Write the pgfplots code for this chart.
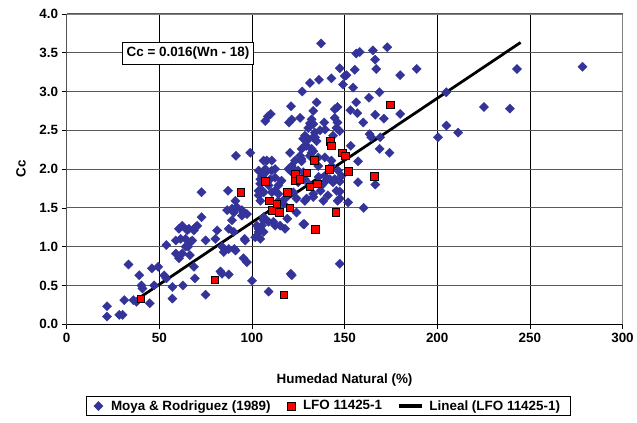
\documentclass[border=0pt]{standalone}
\usepackage{fontspec}
\setmainfont{Liberation Sans}
\usepackage{pgfplots}
\pgfplotsset{compat=1.18}
\definecolor{moya}{RGB}{51,51,153}
\begin{document}
\begin{tikzpicture}[font=\bfseries\fontsize{13.5bp}{16bp}\selectfont]
\begin{axis}[
  scale only axis, width=559bp, height=312bp,
  xmin=0, xmax=300, ymin=0, ymax=4,
  xtick={0,50,100,150,200,250,300},
  ytick={0,0.5,1,1.5,2,2.5,3,3.5,4},
  /pgf/number format/assume math mode=true,
  yticklabel style={/pgf/number format/.cd, fixed, fixed zerofill, precision=1},
  xtick pos=left, ytick pos=left,
  tick align=outside, major tick length=5bp,
  tick style={black, line width=0.6pt},
  axis line style={draw=gray, line width=0.8pt},
  xmajorgrids, ymajorgrids,
  x grid style={black, line width=0.6pt},
  y grid style={black!65, line width=0.9pt},
  xlabel={Humedad Natural (\%)},
  ylabel={Cc},
  xlabel style={at={(axis description cs:0.5,-0.1795)}, anchor=center},
  ylabel style={at={(axis description cs:-0.082,0.5)}, anchor=center},
  legend columns=-1,
  legend style={at={(0.47,-0.232)}, anchor=north, draw=black, line width=0.6pt,
    inner xsep=8bp, inner ysep=2bp,
    /tikz/every odd column/.append style={column sep=6bp},
    /tikz/every even column/.append style={column sep=15bp}},
  legend cell align=left,
]
\draw[black, line width=0.8pt] (rel axis cs:0,1) -- (rel axis cs:0,0) -- (rel axis cs:1,0);
\addplot[only marks, mark=square*, mark size=3.3bp, mark options={rotate=45, fill=moya, draw=moya, line width=0.3pt}] coordinates {
(21.8,0.23)(21.8,0.10)(28.4,0.12)(30.2,0.12)(31.1,0.31)(33.4,0.77)(36.0,0.31)(37.7,0.29)
(39.2,0.63)(40.4,0.50)(41.0,0.46)(44.9,0.27)(46.0,0.72)(49.4,0.74)(47.2,0.50)(52.6,0.63)
(53.8,0.59)(53.8,1.02)(57.1,0.48)(57.1,0.33)(58.9,0.91)(58.9,1.08)(61.5,1.10)(60.6,0.85)
(62.8,0.50)(64.2,1.00)(65.1,1.21)(65.6,1.00)(66.5,0.89)(67.8,1.08)(68.7,0.74)(69.6,1.25)
(69.2,0.59)(72.8,1.38)(72.8,1.70)(75.0,1.08)(75.0,0.38)(81.2,1.21)(83.9,1.00)(84.8,0.93)
(83.9,0.65)(87.5,0.64)(87.1,1.72)(86.6,1.47)(89.3,1.49)(89.3,1.34)(90.2,1.19)(91.1,1.59)
(90.5,0.97)(94.6,1.40)(95.5,1.44)(96.1,1.10)(95.5,0.85)(97.3,0.80)(91.4,2.17)(99.1,2.21)
(100,0.56)(101.8,1.12)(103.6,1.19)(102.7,1.27)(105.4,1.27)(106.3,1.34)(103.6,1.66)(105.7,1.72)
(104.5,1.81)(105.4,1.91)(106.3,2.11)(108,2.11)(110.7,2.11)(107.2,2.00)(110.7,1.98)(112.5,2.00)
(108.6,2.68)(110.2,2.71)(107.2,2.62)(109,0.42)(112.5,1.72)(111.6,1.32)(115.2,1.27)(117.9,1.23)
(119.1,1.36)(121,0.65)(121.5,0.63)(121.1,2.81)(120,2.60)(120.6,2.21)(121.5,2.04)(121.5,1.96)
(124.1,1.44)(126,2.66)(127.2,3.00)(128.6,2.43)(129.5,2.30)(128.3,1.29)(129.5,1.62)(131.3,3.11)
(132.2,2.64)(133.1,2.58)(134.9,2.86)(136.2,3.15)(134,2.47)(134,2.41)(137.3,3.62)(133.1,2.23)
(135.8,2.04)(137.6,1.79)(138.5,1.59)(139,2.60)(142.9,3.17)(144.7,2.77)(146.2,2.80)(145.6,2.53)
(147.4,2.49)(147.4,3.30)(149.2,3.09)(150.1,3.20)(143.8,1.83)(145.6,1.72)(147.4,1.62)(147.4,0.78)
(151.9,1.57)(153.3,2.30)(154.6,3.05)(155.5,3.28)(157.3,1.83)(156.3,3.49)(158.2,3.51)(165.3,3.53)
(166.5,3.41)(167.1,3.29)(173,3.57)(151,3.21)(163.2,2.92)(168.9,2.99)(180,3.21)(188.9,3.29)
(243.1,3.29)(278.4,3.32)(204.9,2.99)(225.3,2.80)(239.2,2.78)(205,2.56)(211.3,2.47)(200.4,2.41)
(180,2.71)(169.2,2.41)(174.3,2.21)(168.9,2.26)(163.5,2.45)(164.4,2.41)(166.6,2.70)(171.2,2.65)
(160.1,2.60)(156.3,2.86)(156.9,2.72)(153.1,2.76)(146.2,2.60)(131.3,2.59)(130.4,2.53)(127.7,2.39)
(157.3,2.10)(166.6,1.80)(160.3,1.50)(146.2,1.59)(147.4,1.71)(147.4,1.84)(144.7,1.87)(133.1,1.64)
(128.6,1.59)(126.8,2.10)(142.9,2.11)(146.5,1.98)(139.4,1.91)(142.1,1.87)(132.2,2.26)(128.6,2.30)
(131.3,2.17)(126,2.17)(125,1.98)(103.6,1.98)(107.5,1.96)(104.5,1.87)(109.9,1.87)(112.5,1.89)
(103.6,1.72)(106.3,1.70)(109,1.79)(114.3,1.79)(110.7,1.70)(114.3,1.68)(104.5,1.59)(114.3,1.59)
(123.3,2.11)(126.8,2.13)(122.4,2.00)(127.7,1.96)(125,1.83)(128.6,1.87)(122.4,1.70)(124.1,1.62)
(133.1,1.68)(130.4,2.38)(133.1,2.41)(132.2,2.21)(106.3,1.38)(109,1.32)(103.6,1.23)(106.3,1.19)
(112.5,1.27)(104.5,1.10)(127.7,1.29)(96.4,1.08)(90.2,1.44)(91.9,1.51)(94.6,1.47)(97.3,1.42)
(87.5,1.23)(68.7,1.21)(70.5,1.27)(64.2,1.10)(66.9,1.06)(66,1.23)(80.3,1.10)(87.5,0.97)
(91.1,0.95)(83,0.68)(62.4,0.91)(60.6,1.23)(62.4,1.27)(121.5,2.64)(133.1,2.75)(144.7,2.66)
(134.9,2.36)(136.7,2.50)(139.4,2.51)(143.8,2.43)(119.7,2.00)(126.8,2.26)(135.8,2.15)(139.4,2.15)
(142.9,2.04)(148.3,1.91)(116,1.85)(118,1.62)(137,1.72)(140,1.85)(141,1.66)(131,1.80)
(136,1.90)(117,1.55)
};
\addplot[black, line width=2.8pt, forget plot] coordinates {(40,0.352)(245,3.632)};
\addplot[only marks, mark=square*, mark size=3.8bp, mark options={fill=red, draw=black, line width=0.6pt}] coordinates {
(40.1,0.33)(80,0.57)(93.9,1.70)(107.2,1.84)(109.5,1.59)(111.1,1.47)(113.4,1.55)(114.7,1.44)
(119.1,1.70)(120.4,1.50)(117.3,0.38)(123.4,1.93)(123.4,1.85)(125.8,1.87)(129.5,1.95)(133.8,2.11)
(131.3,1.77)(135.4,1.81)(134.2,1.22)(141.7,2.00)(142.4,2.36)(142.9,2.30)(145.3,1.44)(148.7,2.21)
(150.4,2.17)(151.9,1.97)(174.8,2.83)(166,1.91)
};
\addlegendimage{legend image code/.code={\fill[black] (0bp,-1.5bp) rectangle (22bp,1.5bp);}}
\legend{Moya \& Rodriguez (1989), LFO 11425-1, Lineal (LFO 11425-1)}
\node[draw=black, fill=white, line width=0.6pt, inner xsep=4bp, inner ysep=5bp] at (axis cs:65.5,3.49) {Cc = 0.016(Wn - 18)};
\end{axis}
\path (-67bp,-99bp) rectangle (570bp,326bp);
\end{tikzpicture}
\end{document}
